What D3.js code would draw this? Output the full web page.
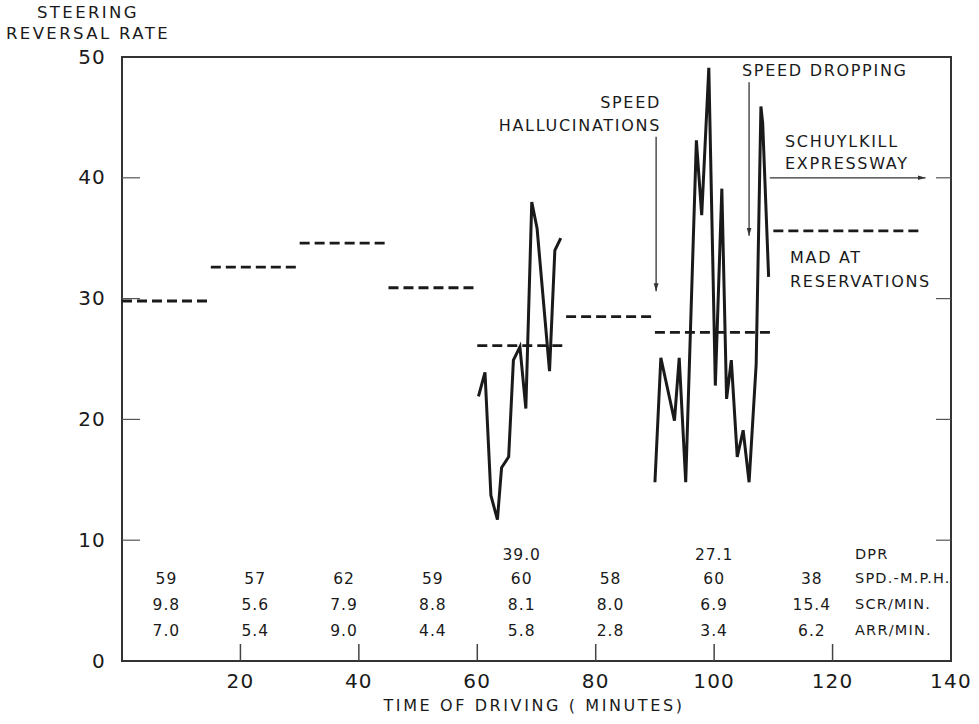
<!DOCTYPE html>
<html><head><meta charset="utf-8">
<script src="https://cdn.jsdelivr.net/npm/d3@7"></script>
<style>
html,body{margin:0;padding:0;background:#fff;}
svg{display:block;}
text{font-family:"DejaVu Sans",sans-serif;fill:#1a1a1a;}
</style></head>
<body><svg id="c" width="979" height="724"></svg>
<script>
// ---- data ----
const segStart = [0, 15, 30, 45, 60, 75, 90, 110];
const segEnd   = [15, 30, 45, 60, 75, 90, 110, 135];
const segMean  = [29.8, 32.6, 34.6, 30.9, 26.1, 28.5, 27.2, 35.6];

const run1Time  = [60.2, 61.3, 62.3, 63.4, 64.1, 65.3, 66.1, 67.2, 68.2, 69.2, 70.1, 72.2, 73.1, 74.1];
const run1Value = [21.9, 23.9, 13.7, 11.7, 16.0, 16.9, 24.9, 26.0, 20.9, 38.0, 35.8, 24.0, 34.0, 35.0];

const run2Time  = [90.0, 91.0, 93.3, 94.1, 95.2, 97.0, 97.9, 99.1, 100.2, 101.3, 102.1, 102.9, 103.9, 104.9, 105.9, 107.1, 107.9, 108.2, 109.2];
const run2Value = [14.8, 25.1, 19.9, 25.1, 14.8, 43.1, 36.9, 49.1, 22.8, 39.1, 21.7, 24.9, 16.9, 19.1, 14.8, 24.6, 45.9, 44.5, 31.8];

const tableCols = [7.5, 22.5, 37.5, 52.5, 67.5, 82.5, 100, 116.5];
const dprRow = ["", "", "", "", "39.0", "", "27.1", ""];
const spdRow = ["59", "57", "62", "59", "60", "58", "60", "38"];
const scrRow = ["9.8", "5.6", "7.9", "8.8", "8.1", "8.0", "6.9", "15.4"];
const arrRow = ["7.0", "5.4", "9.0", "4.4", "5.8", "2.8", "3.4", "6.2"];
const rowLabels = ["DPR", "SPD.-M.P.H.", "SCR/MIN.", "ARR/MIN."];

const xTicks = [20, 40, 60, 80, 100, 120, 140];
const yTicks = [0, 10, 20, 30, 40, 50];

// ---- drawing ----
const svg = d3.select("#c");
const x = d3.scaleLinear().domain([0, 140]).range([122, 951]);
const y = d3.scaleLinear().domain([0, 50]).range([661, 57]);
const ink = "#1a1a1a";

// frame
svg.append("rect").attr("x", x(0)).attr("y", y(50))
  .attr("width", x(140) - x(0)).attr("height", y(0) - y(50))
  .attr("fill", "none").attr("stroke", "#333").attr("stroke-width", 2);

// x ticks (inside, upward)
svg.append("g").selectAll("line").data(xTicks.filter(d => d < 140)).join("line")
  .attr("x1", d => x(d)).attr("x2", d => x(d))
  .attr("y1", y(0)).attr("y2", y(0) - 17)
  .attr("stroke", "#444").attr("stroke-width", 1.5);
// y ticks left and right
const yInner = [10, 20, 30, 40];
svg.append("g").selectAll("line").data(yInner).join("line")
  .attr("x1", x(0)).attr("x2", x(0) + 18)
  .attr("y1", d => y(d)).attr("y2", d => y(d))
  .attr("stroke", "#555").attr("stroke-width", 1.2);
svg.append("g").selectAll("line").data(yInner).join("line")
  .attr("x1", x(140)).attr("x2", x(140) - 15)
  .attr("y1", d => y(d)).attr("y2", d => y(d))
  .attr("stroke", "#555").attr("stroke-width", 1.2);

// tick labels
svg.append("g").selectAll("text").data(xTicks).join("text")
  .attr("x", d => x(d)).attr("y", y(0) + 21)
  .attr("text-anchor", "middle").attr("dominant-baseline", "middle")
  .attr("font-size", 20).attr("letter-spacing", 1.2)
  .text(d => d);
svg.append("g").selectAll("text").data(yTicks).join("text")
  .attr("x", 106).attr("y", d => y(d) + 1)
  .attr("text-anchor", "end").attr("dominant-baseline", "middle")
  .attr("font-size", 20).attr("letter-spacing", 1.2)
  .text(d => d);

// axis titles
svg.append("text").attr("x", 88).attr("y", 13)
  .attr("text-anchor", "middle").attr("dominant-baseline", "middle")
  .attr("font-size", 16.5).attr("letter-spacing", 2.4).text("STEERING");
svg.append("text").attr("x", 88).attr("y", 34)
  .attr("text-anchor", "middle").attr("dominant-baseline", "middle")
  .attr("font-size", 16.5).attr("letter-spacing", 2.4).text("REVERSAL RATE");
svg.append("text").attr("x", 534).attr("y", 706)
  .attr("text-anchor", "middle").attr("dominant-baseline", "middle")
  .attr("font-size", 16).attr("letter-spacing", 2.6).text("TIME OF DRIVING ( MINUTES)");

// mean dashed levels
svg.append("g").selectAll("line").data(segMean).join("line")
  .attr("x1", (d, i) => x(segStart[i])).attr("x2", (d, i) => x(segEnd[i]))
  .attr("y1", d => y(d)).attr("y2", d => y(d))
  .attr("stroke", ink).attr("stroke-width", 2.8)
  .attr("stroke-dasharray", "10,5");

// steering runs
const line = d3.line().x(d => x(d[0])).y(d => y(d[1]));
[[run1Time, run1Value], [run2Time, run2Value]].forEach(([t, v]) => {
  svg.append("path").datum(t.map((d, i) => [d, v[i]]))
    .attr("d", line).attr("fill", "none")
    .attr("stroke", ink).attr("stroke-width", 3)
    .attr("stroke-linejoin", "miter");
});

// table
const rows = [dprRow, spdRow, scrRow, arrRow];
const rowY = [555, 579, 605, 631];
rows.forEach((r, ri) => {
  svg.append("g").selectAll("text").data(r).join("text")
    .attr("x", (d, i) => x(tableCols[i])).attr("y", rowY[ri])
    .attr("text-anchor", "middle").attr("dominant-baseline", "middle")
    .attr("font-size", 15.5).attr("letter-spacing", 1)
    .text(d => d);
});
svg.append("g").selectAll("text").data(rowLabels).join("text")
  .attr("x", 855).attr("y", (d, i) => rowY[i])
  .attr("dominant-baseline", "middle")
  .attr("font-size", 14.5).attr("letter-spacing", 1.2)
  .text(d => d);

// annotations
const defs = svg.append("defs");
defs.append("marker").attr("id", "ah").attr("viewBox", "0 0 10 10")
  .attr("refX", 10).attr("refY", 5).attr("markerWidth", 8).attr("markerHeight", 8)
  .attr("markerUnits", "userSpaceOnUse").attr("orient", "auto")
  .append("path").attr("d", "M0,2 L10,5 L0,8 Z").attr("fill", "#333");

function arrow(x1, y1, x2, y2) {
  svg.append("line").attr("x1", x1).attr("y1", y1).attr("x2", x2).attr("y2", y2)
    .attr("stroke", "#333").attr("stroke-width", 1.3).attr("marker-end", "url(#ah)");
}
function label(txt, tx, ty, anchor) {
  svg.append("text").attr("x", tx).attr("y", ty)
    .attr("text-anchor", anchor).attr("dominant-baseline", "middle")
    .attr("font-size", 16).attr("letter-spacing", 1.7).text(txt);
}
label("SPEED", 661, 103, "end");
label("HALLUCINATIONS", 661, 126, "end");
arrow(x(90.2), y(43.4), x(90.2), y(30.6));

label("SPEED DROPPING", 742, 71, "start");
arrow(x(105.9), y(47.9), x(105.9), y(35.2));

label("SCHUYLKILL", 785, 142, "start");
label("EXPRESSWAY", 785, 164, "start");
arrow(x(109.4), y(40.0), x(135.7), y(40.0));

label("MAD AT", 790, 258, "start");
label("RESERVATIONS", 790, 282, "start");
</script></body></html>
